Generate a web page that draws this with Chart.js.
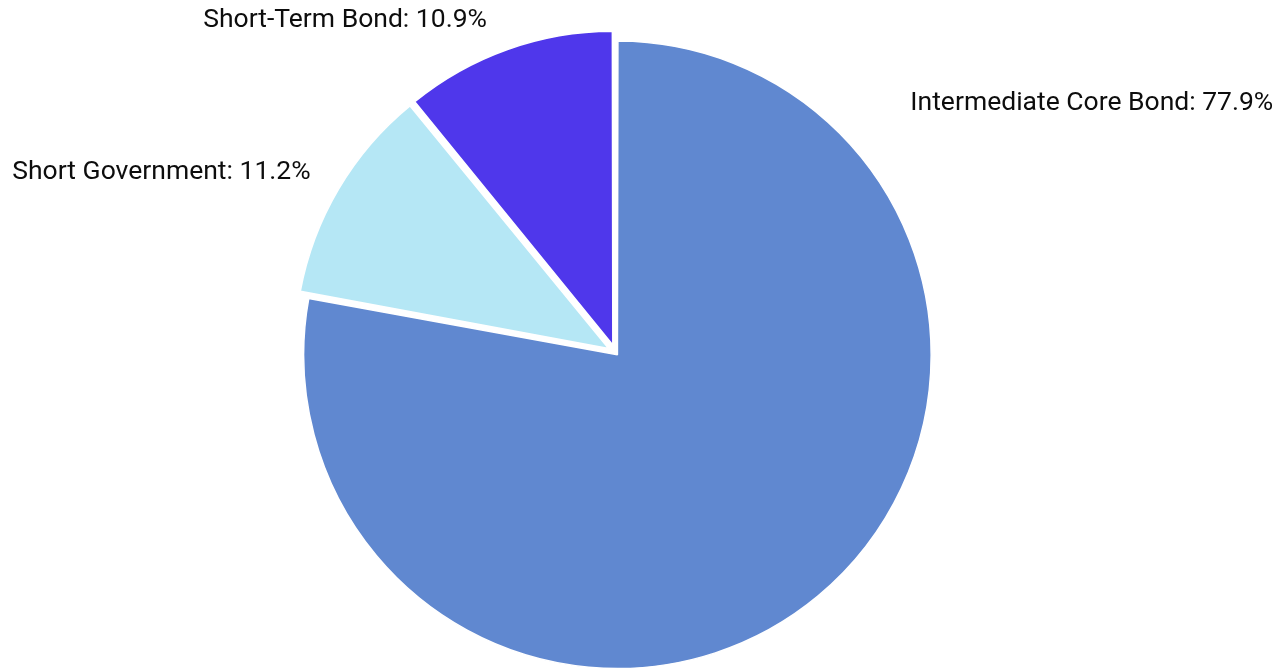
<!DOCTYPE html>
<html>
<head>
<meta charset="utf-8">
<title>Bond Allocation</title>
<script src="https://cdn.jsdelivr.net/npm/chart.js@4.4.1/dist/chart.umd.min.js"></script>
<style>
  html, body { margin: 0; padding: 0; background: #fff; }
  #chart { display: block; }
</style>
</head>
<body>
<canvas id="chart" width="1282" height="670"></canvas>
<script>
// categories and shares
const categories = ['Intermediate Core Bond', 'Short Government', 'Short-Term Bond'];
const shares = [77.9, 11.2, 10.9];
const colors = ['#6088d0', '#b5e7f5', '#4f37eb'];

// where each text label sits: degrees clockwise from 12 o'clock, px past the rim
const labelAngle = [49.5, 301, 339];
const labelGap = [77, 45, 48];

// draws "name: value%" next to each slice
const sliceLabels = {
    id: 'sliceLabels',
    afterDatasetsDraw(chart) {
        const ctx = chart.ctx;
        const arcs = chart.getDatasetMeta(0).data;
        ctx.save();
        ctx.font = '26.5px Roboto';
        ctx.fillStyle = '#0d0d0d';
        ctx.textBaseline = 'middle';
        arcs.forEach(function (arc, i) {
            const a = labelAngle[i] * Math.PI / 180;
            const r = arc.outerRadius + labelGap[i];
            const x = arc.x + Math.sin(a) * r;
            // text sits a touch low of the anchor
            const y = arc.y - Math.cos(a) * r + 3;
            ctx.textAlign = x > arc.x ? 'left' : 'right';
            ctx.fillText(categories[i] + ': ' + shares[i].toFixed(1) + '%', x, y);
        });
        ctx.restore();
    }
};

const ctx = document.getElementById('chart').getContext('2d');
const pie = new Chart(ctx, {
    type: 'pie',
    data: {
        labels: categories,
        datasets: [{
            data: shares,
            backgroundColor: colors,
            borderColor: '#ffffff',
            borderWidth: 1.5,
            offset: [12, 32, 32],
            hoverOffset: 0,
            radius: 310.75
        }]
    },
    options: {
        responsive: false,
        animation: false,
        events: [],
        layout: { padding: { top: 35, bottom: 0, left: 0, right: 51 } },
        plugins: {
            legend: { display: false },
            tooltip: { enabled: false }
        }
    },
    plugins: [sliceLabels]
});
</script>
</body>
</html>
